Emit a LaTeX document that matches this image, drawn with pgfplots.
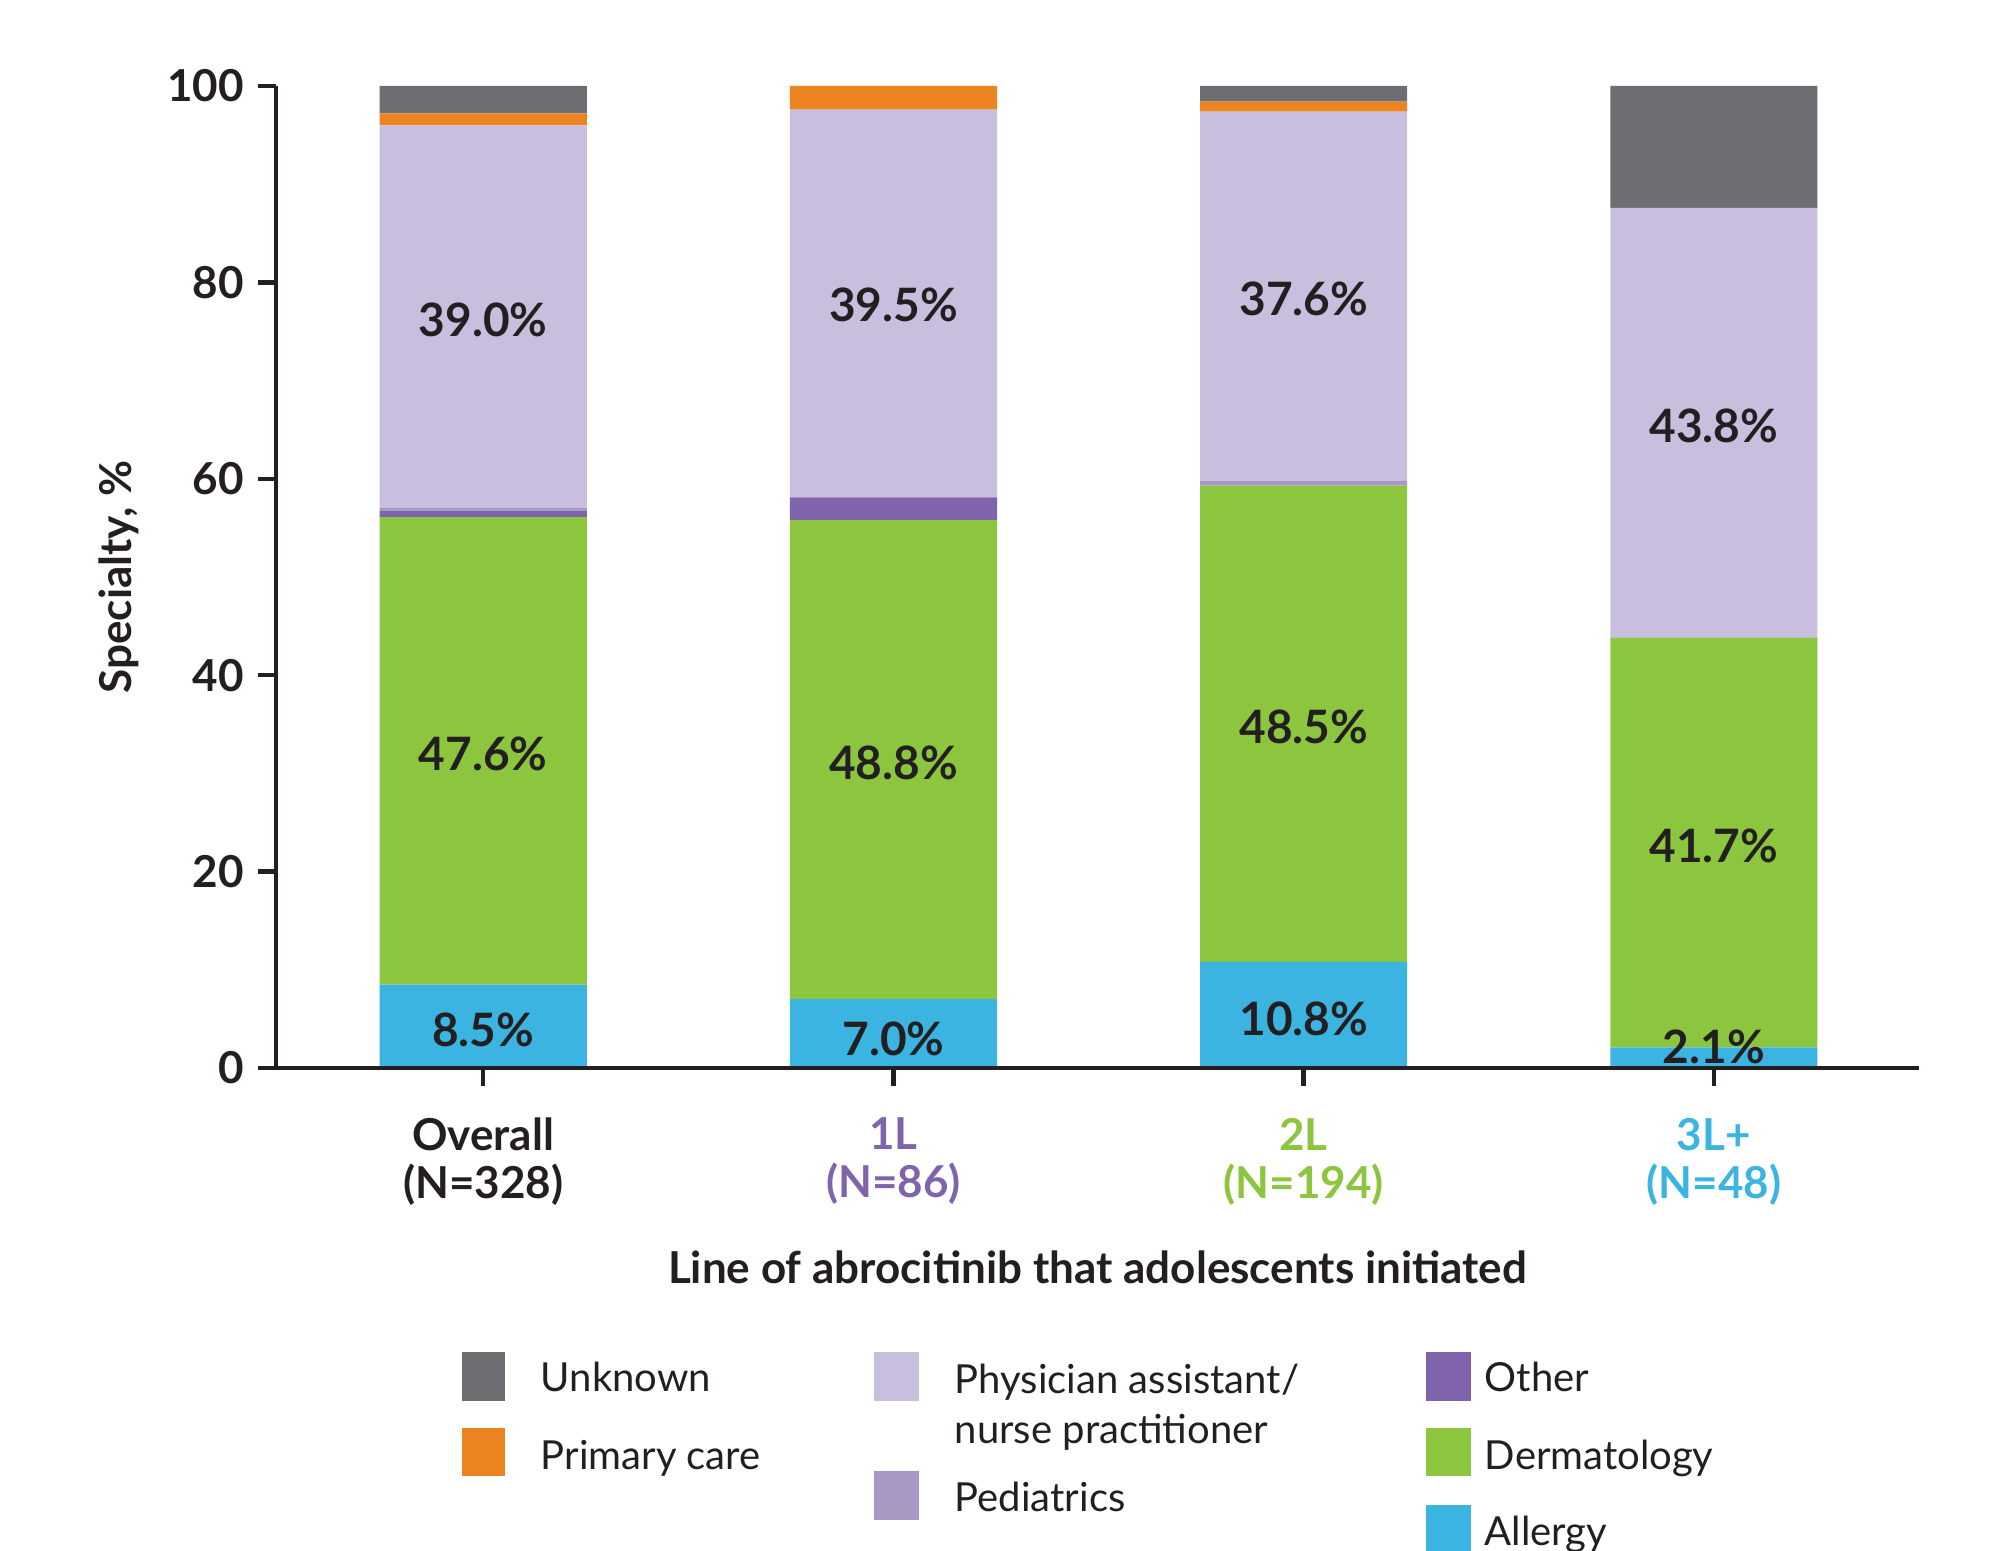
\documentclass[border=0pt]{standalone}
\usepackage{pgfplots}
\pgfplotsset{compat=1.18}
\usepackage{pgfplotstable}
\usepackage{fontspec}
\setmainfont{Lato}
\definecolor{cUnk}{HTML}{6D6E71}
\definecolor{cPrim}{HTML}{EC8422}
\definecolor{cPA}{HTML}{C8BEDD}
\definecolor{cPed}{HTML}{A997C6}
\definecolor{cOth}{HTML}{7F64AC}
\definecolor{cDer}{HTML}{8CC63F}
\definecolor{cAll}{HTML}{3CB4E2}
\definecolor{ink}{HTML}{231F20}
\definecolor{c1L}{HTML}{7F64AC}
\definecolor{c2L}{HTML}{8CC63F}
\definecolor{c3L}{HTML}{3CB4E2}
\tikzset{lbl/.style={font=\bfseries\fontsize{11.5}{13}\selectfont, color=ink, anchor=center}}

\pgfplotstableread{
x Allergy Derm Other Peds PANP Primary Unknown
0 8.5  47.6 0.6 0.3 39.0 1.2 2.8
1 7.0  48.8 2.3 0.0 39.5 2.4 0.0
2 10.8 48.5 0.0 0.5 37.6 1.0 1.6
3 2.1  41.7 0.0 0.0 43.8 0.0 12.4
}\datatable

\begin{document}
\begin{tikzpicture}
\useasboundingbox (0,0) rectangle (503.25pt,387.75pt);
\clip (0,0) rectangle (503.25pt,387.75pt);
\begin{axis}[
  axis on top,
  at={(69pt,120.75pt)}, anchor=south west,
  scale only axis, width=410.75pt, height=245.5pt,
  ybar stacked, bar width=0.505,
  xmin=-0.505, xmax=3.5, ymin=0, ymax=100,
  axis lines*=left,
  axis line style={line width=1.1pt, color=ink, -},
  tick style={line width=1.1pt, color=ink},
  tick align=outside, major tick length=4.5pt,
  xtick={0,1,2,3},
  xticklabels={{{\color{ink}Overall}\\{\color{ink}(N=328)}},{{\color{c1L}1L}\\{\color{c1L}(N=86)}},{{\color{c2L}2L}\\{\color{c2L}(N=194)}},{{\color{c3L}3L+}\\{\color{c3L}(N=48)}}},
  xticklabel style={align=center, font=\bfseries\fontsize{11}{12}\selectfont, yshift=-4.5pt},
  ytick={0,20,40,60,80,100},
  yticklabel style={font=\bfseries\fontsize{11}{13}\selectfont, color=ink},
  /pgf/number format/assume math mode=true,
  ylabel={Specialty, \%},
  ylabel style={at={(axis description cs:-0.0956,0.5)}, anchor=center, font=\bfseries\fontsize{11}{13}\selectfont, color=ink},
  xlabel={Line of abrocitinib that adolescents initiated},
  xlabel style={at={(axis description cs:0.5,-0.2026)}, anchor=center, font=\bfseries\fontsize{11}{13}\selectfont, color=ink},
  clip=false,
]
\addplot[fill=cAll, draw=none] table[x=x, y=Allergy] {\datatable};
\addplot[fill=cDer, draw=none] table[x=x, y=Derm] {\datatable};
\addplot[fill=cOth, draw=none] table[x=x, y=Other] {\datatable};
\addplot[fill=cPed, draw=none] table[x=x, y=Peds] {\datatable};
\addplot[fill=cPA, draw=none] table[x=x, y=PANP] {\datatable};
\addplot[fill=cPrim, draw=none] table[x=x, y=Primary] {\datatable};
\addplot[fill=cUnk, draw=none] table[x=x, y=Unknown] {\datatable};

\coordinate (a1) at (axis cs:0,3.9);
\coordinate (a2) at (axis cs:0,32.0);
\coordinate (a3) at (axis cs:0,76.2);
\coordinate (b1) at (axis cs:1,3.0);
\coordinate (b2) at (axis cs:1,31.1);
\coordinate (b3) at (axis cs:1,77.7);
\coordinate (c1) at (axis cs:2,4.95);
\coordinate (c2) at (axis cs:2,34.7);
\coordinate (c3) at (axis cs:2,78.3);
\coordinate (d1) at (axis cs:3,2.1);
\coordinate (d2) at (axis cs:3,22.6);
\coordinate (d3) at (axis cs:3,65.4);
\end{axis}

\node[lbl] at (a1) {8.5\%};
\node[lbl] at (a2) {47.6\%};
\node[lbl] at (a3) {39.0\%};
\node[lbl] at (b1) {7.0\%};
\node[lbl] at (b2) {48.8\%};
\node[lbl] at (b3) {39.5\%};
\node[lbl] at (c1) {10.8\%};
\node[lbl] at (c2) {48.5\%};
\node[lbl] at (c3) {37.6\%};
\node[lbl] at (d1) {2.1\%};
\node[lbl] at (d2) {41.7\%};
\node[lbl] at (d3) {43.8\%};

% legend
\begin{scope}[every node/.style={anchor=mid west, font=\fontsize{10}{12}\selectfont, color=ink, inner sep=0pt}]
\fill[cUnk] (115.5pt,37.5pt) rectangle (126.25pt,49.75pt);
\node at (135pt,42.5pt) {Unknown};
\fill[cPrim] (115.5pt,18.75pt) rectangle (126.25pt,30.75pt);
\node at (135pt,23pt) {Primary care};
\fill[cPA] (218.5pt,37.5pt) rectangle (229.75pt,49.75pt);
\node at (238.5pt,42pt) {Physician assistant/};
\node at (238.5pt,29.5pt) {nurse practitioner};
\fill[cPed] (218.5pt,7.75pt) rectangle (229.75pt,20pt);
\node at (238.5pt,12.3pt) {Pediatrics};
\fill[cOth] (356.5pt,37.5pt) rectangle (367.75pt,49.75pt);
\node at (371pt,42.5pt) {Other};
\fill[cDer] (356.5pt,18.75pt) rectangle (367.75pt,30.75pt);
\node at (371pt,23pt) {Dermatology};
\fill[cAll] (356.5pt,-2pt) rectangle (367.75pt,11.5pt);
\node at (371pt,4pt) {Allergy};
\end{scope}
\end{tikzpicture}
\end{document}
